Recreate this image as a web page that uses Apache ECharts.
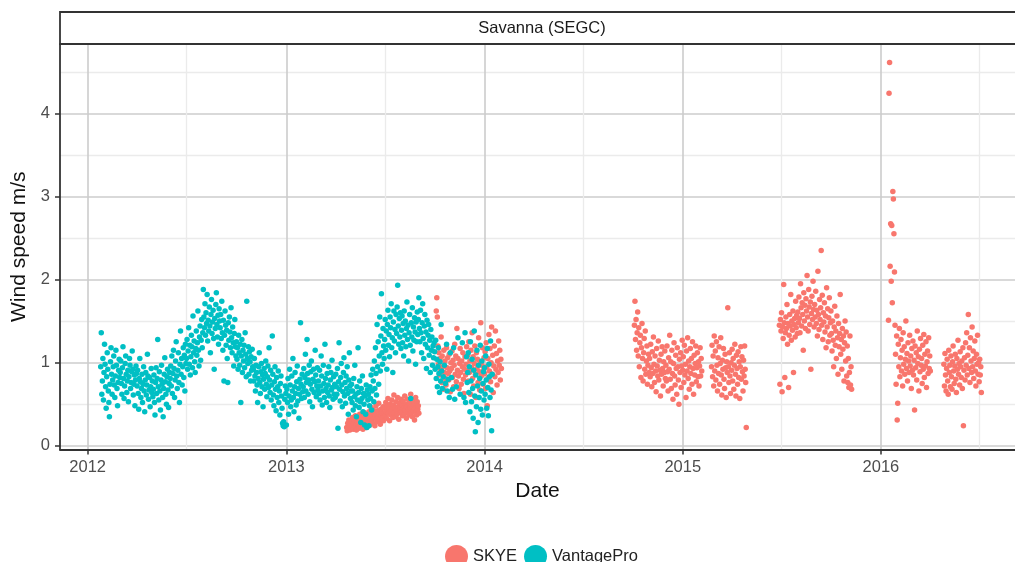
<!DOCTYPE html>
<html><head><meta charset="utf-8">
<script src="https://cdn.jsdelivr.net/npm/echarts@6/dist/echarts.min.js"></script>
<style>html,body{margin:0;padding:0;background:#fff}#c{width:1015px;height:562px}</style>
</head><body><div id="c"></div>
<script>
// ---------------- DATA ----------------
const panelTitle = 'Savanna (SEGC)';
const seriesNames = ['SKYE', 'VantagePro'];

// VantagePro daily wind speed (m/s); null = no reading that day
const vpStart2012 = '2012-01-25';
const vp2012 = [
0.95,1.36,0.62,0.78,1.05,0.55,0.88,
1.22,0.98,0.71,0.45,0.83,1.12,0.92,0.66,0.52,0.35,0.74,1.01,1.18,0.86,0.62,0.79,0.95,1.08,0.73,0.58,0.84,1.15,0.97,0.69,0.48,0.76,0.91,1.04,0.82,
0.88,1.02,0.75,0.62,0.94,1.19,0.81,0.57,0.72,0.99,1.08,0.86,0.64,0.78,0.91,0.53,0.83,1.05,0.97,0.69,0.76,0.89,1.14,0.92,0.61,0.74,0.85,0.48,0.79,0.96,0.87,
0.72,0.91,0.63,0.44,0.81,1.05,0.77,0.58,0.69,0.86,0.52,0.74,0.95,0.66,0.41,0.79,0.88,0.61,0.73,1.10,0.84,0.56,0.67,0.82,0.47,0.71,0.93,0.64,0.78,0.59,
0.68,0.85,0.52,0.37,0.76,0.94,0.63,0.81,1.28,0.71,0.55,0.89,0.66,0.43,0.79,0.97,0.74,0.58,0.35,0.69,0.86,1.06,0.77,0.62,0.50,0.83,0.92,0.67,0.46,0.75,0.88,
0.81,0.96,0.72,1.08,0.63,0.87,1.15,0.93,0.58,0.79,1.02,1.25,0.84,0.69,0.91,1.12,0.76,0.52,0.98,1.38,0.86,1.05,0.73,0.95,1.18,0.82,1.09,0.66,1.22,0.99,
1.05,1.28,0.92,1.14,1.42,0.98,1.21,0.85,1.07,1.33,1.19,0.94,1.56,1.12,1.26,1.01,0.88,1.17,1.38,1.09,1.24,1.62,1.15,0.96,1.31,1.44,1.03,1.27,1.52,1.18,1.36,
1.88,1.55,1.42,1.71,1.33,1.60,1.47,1.82,1.26,1.51,1.38,1.67,1.44,1.12,1.58,1.76,1.35,1.49,1.63,1.29,0.92,1.53,1.41,1.70,1.84,1.46,1.31,1.57,1.22,1.65,1.50,
1.42,1.58,1.29,1.74,1.36,1.15,1.51,0.78,1.33,1.62,1.45,1.21,1.39,1.05,0.76,1.48,1.27,1.55,1.37,1.18,1.66,1.30,1.12,1.43,1.24,0.96,1.35,1.52,1.19,1.08,
1.25,1.04,1.18,0.92,1.33,1.12,0.97,1.22,0.52,1.08,1.28,0.88,1.15,1.02,1.21,0.94,1.36,1.10,0.83,1.74,1.05,0.99,1.19,0.86,1.13,1.01,0.78,1.07,0.91,1.16,0.95,
0.92,0.78,1.05,0.84,0.66,0.97,0.88,0.73,0.52,0.81,0.95,1.12,0.76,0.63,0.89,0.99,0.71,0.85,0.47,0.80,0.93,0.68,0.87,1.02,0.74,0.59,0.83,0.96,0.70,1.18,
0.79,0.64,0.91,0.55,0.73,1.32,0.86,0.61,0.48,0.77,0.95,0.68,0.42,0.82,0.58,0.71,0.90,0.52,0.66,0.37,0.75,0.84,0.60,0.45,0.27,0.24,0.29,0.23,0.56,0.72,0.63
];
const vpStart2013 = '2013-01-01';
const vp2013 = [
0.25,0.68,0.52,0.81,0.38,0.60,0.92,0.73,0.47,0.55,0.84,0.66,1.05,0.58,0.41,0.71,0.88,0.63,0.49,0.77,0.96,0.54,0.69,0.33,0.62,0.80,1.48,0.74,0.57,0.86,0.65,
0.71,0.93,0.58,0.82,1.10,0.66,0.76,1.28,0.87,0.62,0.79,0.97,0.53,0.74,0.89,1.02,0.68,0.47,0.80,0.92,0.64,0.77,1.15,0.85,0.59,0.72,0.94,0.67,
0.78,0.63,0.91,0.55,0.72,1.08,0.84,0.49,0.66,0.97,0.75,0.58,1.22,0.81,0.69,0.52,0.87,0.64,0.73,0.95,0.60,0.46,0.79,0.88,0.67,1.03,0.70,0.56,0.83,0.62,0.74,
0.58,0.86,0.71,0.62,0.93,0.21,0.77,1.24,0.68,0.54,0.82,0.99,0.73,0.47,0.65,0.88,1.06,0.60,0.76,0.51,0.84,0.69,0.95,0.63,0.38,0.79,1.12,0.72,0.57,0.66,
0.74,0.52,0.66,0.43,0.81,0.59,0.97,0.48,0.62,0.35,0.71,0.55,1.18,0.64,0.46,0.78,0.53,0.28,0.69,0.57,0.84,0.41,0.63,0.50,0.25,0.60,0.38,0.73,0.22,0.67,0.55,
0.62,0.24,0.48,0.71,0.57,0.85,0.43,0.66,0.92,0.78,0.53,1.02,0.69,1.18,0.87,0.61,1.46,0.95,1.25,0.74,1.08,1.55,0.90,1.32,1.83,1.12,0.98,1.41,1.20,1.05,
1.28,1.52,1.15,1.38,0.92,1.46,1.63,1.21,1.34,1.07,1.55,1.42,1.71,1.18,1.30,0.88,1.49,1.62,1.26,1.40,1.12,1.58,1.35,1.67,1.93,1.44,1.22,1.53,1.31,1.60,1.17,
1.39,1.56,1.24,1.47,1.08,1.62,1.33,1.50,1.19,1.41,1.73,1.28,1.45,1.02,1.36,1.58,1.21,0.57,1.48,1.31,1.66,1.14,1.43,1.27,1.54,1.37,0.98,1.49,1.25,1.61,1.34,
1.52,1.78,1.41,1.25,1.63,1.36,1.12,1.48,1.71,1.29,1.05,1.44,1.58,1.22,1.37,0.93,1.51,1.18,1.33,1.46,1.09,1.27,0.88,1.40,1.15,1.31,0.97,1.20,1.06,1.24,
1.13,0.92,1.27,0.81,1.04,0.71,0.95,1.18,0.87,0.64,1.01,0.78,1.46,0.90,0.69,null,0.83,null,0.97,null,0.75,null,1.22,0.66,null,0.80,null,0.58,null,1.12,null,
0.82,null,0.68,null,1.18,null,0.56,null,null,0.71,null,null,1.30,null,null,null,0.62,null,null,null,1.24,null,null,0.58,null,1.36,0.52,null,1.07,0.76,
0.88,1.12,0.64,0.95,0.41,1.25,0.78,0.53,1.04,0.69,0.33,0.91,1.38,0.60,0.17,0.85,0.47,1.15,0.72,0.28,0.97,0.58,0.81,1.21,0.44,0.66,1.02,0.37,0.75,0.89,0.55
];
const vpStart2014 = '2014-01-01';
const vp2014 = [0.94,0.62,1.08,0.79,0.45,1.17,0.70,0.36,0.98,0.83,0.58,1.26,0.67,0.18,0.86];

// SKYE daily wind speed (m/s), one array per logging period
const skyeStarts = ['2013-04-22','2013-10-04','2014-10-04','2015-02-23','2015-06-28','2016-01-15','2016-04-26'];
const skye1 = [
0.22,0.18,0.27,0.20,0.31,0.24,0.19,0.26,0.21,
0.29,0.23,0.34,0.20,0.27,0.31,0.22,0.36,0.25,0.19,0.30,0.28,0.24,0.33,0.21,0.38,0.26,0.29,0.23,0.35,0.31,0.20,0.27,0.40,0.24,0.32,0.28,0.37,0.22,0.30,0.34,
0.28,0.41,0.33,0.25,0.38,0.46,0.30,0.36,0.27,0.43,0.34,0.39,0.24,0.37,0.48,0.32,0.29,0.42,0.35,0.51,0.31,0.38,0.26,0.44,0.36,0.40,0.33,0.47,0.30,0.39,
0.45,0.36,0.52,0.41,0.33,0.48,0.57,0.39,0.44,0.30,0.50,0.42,0.37,0.55,0.46,0.34,0.49,0.61,0.40,0.45,0.35,0.53,0.43,0.38,0.58,0.47,0.32,0.51,0.44,0.40,0.56,
0.41,0.49,0.36,0.54,0.45,0.38,0.60,0.43,0.50,0.33,0.47,0.56,0.40,0.44,0.37,0.52,0.46,0.62,0.39,0.48,0.35,0.55,0.42,0.50,0.31,0.45,0.58,0.41,0.37,0.53,0.44,
0.48,0.39
];
const skye2 = [
1.62,1.78,1.55,1.20,0.98,1.12,0.85,1.05,0.92,1.31,0.76,1.08,0.95,0.68,1.15,0.88,1.02,0.81,0.73,1.18,0.94,1.06,0.87,0.79,1.10,0.90,0.65,1.00,
0.93,1.14,0.82,1.03,0.71,0.97,1.22,0.86,1.08,0.77,1.41,0.91,1.05,0.84,0.69,0.99,1.17,0.88,0.74,1.02,0.95,1.12,0.80,0.63,0.92,1.07,0.85,0.98,1.19,0.90,
1.09,0.78,1.25,0.88,1.02,0.62,1.15,0.94,1.36,0.81,1.07,0.72,0.99,1.20,0.86,0.58,1.12,0.93,1.04,0.76,1.30,0.89,0.67,1.01,1.48,0.84,0.97,1.18,0.74,0.91,1.06,
0.87,1.13,0.69,1.24,0.95,0.48,1.05,0.82,1.34,0.90,1.17,0.77,1.00,1.43,0.86,1.09,0.64,0.96,1.20,0.83,1.38,0.92,1.11,0.73,1.02,0.88,1.26,0.97,1.15,0.79,1.04,
0.93
];
const skye3 = [
1.45,1.74,1.28,1.52,1.15,1.36,1.61,1.08,1.42,0.95,1.24,1.33,0.82,1.18,1.47,1.05,0.78,1.12,1.29,0.92,1.38,0.86,1.02,1.20,0.74,0.97,1.10,0.88,
1.05,0.83,1.22,0.94,0.71,1.13,0.87,1.31,0.98,0.76,1.08,0.90,0.65,1.17,0.96,0.84,1.26,0.79,1.03,0.91,0.60,1.10,0.86,1.19,0.93,0.72,1.01,0.88,1.14,0.81,
0.97,0.78,1.20,0.89,0.66,1.06,0.92,1.33,0.80,1.01,0.69,1.15,0.87,0.56,0.99,1.24,0.84,0.73,1.09,0.93,0.62,1.18,0.95,0.79,0.50,1.04,0.88,1.12,0.70,0.96,1.27,
0.91,1.07,0.76,1.21,0.85,0.98,0.58,1.14,0.90,1.30,0.81,1.02,0.68,0.95,1.17,0.87,1.05,0.74,1.25,0.93,0.62,1.09,0.85,0.99,1.20,0.77,0.94,1.12,0.83,1.01,0.72,
0.96,1.18,0.84,1.05,0.90
];
const skye4 = [
0.95,1.21,0.83,1.08,0.72,1.32,
0.90,1.14,0.79,1.25,0.97,0.66,1.06,0.87,1.19,0.74,0.99,1.30,0.85,0.61,1.03,0.92,1.17,0.80,0.69,1.10,0.94,0.58,1.01,0.88,1.66,0.95,0.76,1.12,0.84,0.63,1.00,
0.91,1.16,0.78,1.05,0.68,0.97,1.22,0.86,0.60,1.09,0.93,0.74,1.13,0.82,1.01,0.57,0.95,1.19,0.80,1.07,0.89,0.66,1.03,0.84,1.20,0.92,0.76,0.22
];
const skye5 = [
1.45,0.74,1.52,
1.38,1.60,0.65,1.43,1.29,1.94,1.48,0.82,1.36,1.55,1.41,1.70,1.22,1.47,0.70,1.33,1.58,1.44,1.82,1.27,1.50,1.39,1.62,0.88,1.46,1.53,1.31,1.74,1.42,1.57,1.35,
1.61,1.48,1.79,1.53,1.36,1.95,1.66,1.44,1.72,1.58,1.15,1.84,1.50,1.69,1.41,1.77,1.62,2.05,1.55,1.38,1.88,1.67,1.46,1.73,0.92,1.59,1.80,1.52,1.98,1.64,1.43,
1.70,1.55,1.86,1.47,1.63,1.32,2.10,1.58,1.40,1.76,1.52,1.66,2.35,1.45,1.81,1.28,1.60,1.49,1.72,1.37,1.56,1.18,1.90,1.43,1.65,1.25,1.54,1.78,1.33,1.48,
1.62,1.35,1.14,1.50,1.27,0.95,1.43,1.68,1.21,1.38,1.05,1.56,1.30,0.86,1.47,1.19,1.35,1.82,1.10,1.28,0.92,1.41,1.16,1.32,0.78,1.24,1.50,1.02,1.37,0.84,1.20,
0.76,1.05,0.70,0.88,1.32,0.73,0.95,0.68
];
const skye6 = [
1.51,4.24,4.61,2.16,2.67,1.98,2.65,1.72,3.06,2.97,2.55,2.09,
1.45,1.10,0.74,1.32,0.31,
0.51,1.22,0.95,1.41,0.83,1.06,1.28,0.90,1.15,0.72,1.36,0.98,1.19,0.86,1.04,1.50,0.93,1.11,0.78,1.24,1.02,0.88,1.33,0.96,1.08,0.69,1.17,0.91,1.26,
0.85,1.03,0.43,1.20,0.94,1.12,0.79,1.38,0.99,1.07,0.66,1.16,0.89,1.29,0.97,1.05,0.75,1.21,0.92,1.34,0.82,1.10,0.96,1.25,0.70,1.01,1.14,0.87,1.30,0.93,1.08,
0.90
];
const skye7 = [
0.98,0.72,1.11,0.85,0.66,
0.93,1.04,0.78,0.62,1.15,0.88,0.97,0.71,1.08,0.83,0.68,1.01,1.20,0.90,0.75,0.96,1.10,0.80,0.64,1.05,0.92,1.27,0.86,0.99,0.73,1.13,0.95,0.82,1.02,0.69,1.18,
0.24,0.91,1.06,0.79,1.24,0.97,1.36,0.85,1.09,1.58,0.93,1.18,0.76,1.30,1.02,0.88,1.43,0.95,1.14,0.81,1.05,1.26,0.90,0.72,1.10,0.98,1.33,0.86,1.00,0.77,
1.04,0.85,0.95,0.64
];

// Axis ticks
const yearTicks = ['2012-01-01','2013-01-01','2014-01-01','2015-01-01','2016-01-01'];
const halfYearTicks = ['2012-07-01','2013-07-02','2014-07-02','2015-07-02','2016-07-01'];
const yTicks = [0, 1, 2, 3, 4];
const yMinorTicks = [0.5, 1.5, 2.5, 3.5, 4.5];
const xRange = ['2011-11-11', '2016-09-04'];   // visible part of the panel
const yRange = [-0.045, 4.834];

// ---------------- BUILD ----------------
const DAY = 86400000;
function daily(start, values) {
  const t0 = Date.parse(start);
  const out = [];
  values.forEach((v, i) => { if (v != null) out.push([t0 + i * DAY, v]); });
  return out;
}
const vpData = [].concat(daily(vpStart2012, vp2012), daily(vpStart2013, vp2013), daily(vpStart2014, vp2014));
const skyeArrays = [skye1, skye2, skye3, skye4, skye5, skye6, skye7];
let skyeData = [];
skyeArrays.forEach((arr, k) => { skyeData = skyeData.concat(daily(skyeStarts[k], arr)); });

const FONT = '"Liberation Sans", Arial, Helvetica, sans-serif';
const GRID = { left: 60, top: 44, right: 0, bottom: 112.5 };
const xMin = Date.parse(xRange[0]), xMax = Date.parse(xRange[1]);
const yearTs = yearTicks.map(Date.parse);
const halfTs = halfYearTicks.map(Date.parse);

const chart = echarts.init(document.getElementById('c'), null, { renderer: 'canvas' });
chart.setOption({
  animation: false,
  backgroundColor: '#fff',
  textStyle: { fontFamily: FONT },
  grid: { left: GRID.left, top: GRID.top, right: GRID.right, bottom: GRID.bottom, containLabel: false },
  legend: {
    data: seriesNames,
    icon: 'circle',
    itemWidth: 23, itemHeight: 23, itemGap: 7,
    left: 440, top: 540,
    textStyle: { fontSize: 16.5, color: '#222', fontFamily: FONT }
  },
  xAxis: [
    { // minor grid
      type: 'value', min: xMin, max: xMax, position: 'top', gridIndex: 0,
      axisLine: { show: false }, axisLabel: { show: false },
      axisTick: { show: false, customValues: halfTs },
      splitLine: { show: true, lineStyle: { color: '#ebebeb', width: 1.3 } }
    },
    {
      type: 'value', min: xMin, max: xMax, position: 'bottom', gridIndex: 0,
      name: 'Date', nameLocation: 'middle', nameGap: 30,
      nameTextStyle: { fontSize: 21, color: '#111', fontFamily: FONT },
      axisLine: { show: true, onZero: false, lineStyle: { color: '#333', width: 1.8 } },
      axisTick: { show: true, length: 5, customValues: yearTs, lineStyle: { color: '#333', width: 1.5 } },
      axisLabel: { customValues: yearTs, formatter: v => String(new Date(v).getUTCFullYear()),
                   fontSize: 16.5, color: '#4d4d4d', margin: 9, fontFamily: FONT },
      splitLine: { show: true, lineStyle: { color: '#cccccc', width: 1.6 } }
    }
  ],
  yAxis: [
    { // minor grid
      type: 'value', min: yRange[0], max: yRange[1], position: 'right', gridIndex: 0,
      axisLine: { show: false }, axisLabel: { show: false },
      axisTick: { show: false, customValues: yMinorTicks },
      splitLine: { show: true, lineStyle: { color: '#ebebeb', width: 1.3 } }
    },
    {
      type: 'value', min: yRange[0], max: yRange[1], position: 'left', gridIndex: 0,
      name: 'Wind speed m/s', nameLocation: 'middle', nameGap: 27, nameRotate: 90,
      nameTextStyle: { fontSize: 21, color: '#111', fontFamily: FONT },
      axisLine: { show: true, onZero: false, lineStyle: { color: '#333', width: 1.8 } },
      axisTick: { show: true, length: 5, customValues: yTicks, lineStyle: { color: '#333', width: 1.5 } },
      axisLabel: { customValues: yTicks, fontSize: 16.5, color: '#4d4d4d', margin: 10, fontFamily: FONT },
      splitLine: { show: true, lineStyle: { color: '#cccccc', width: 1.6 } }
    }
  ],
  series: [
    { name: 'SKYE', type: 'scatter', xAxisIndex: 1, yAxisIndex: 1, data: skyeData,
      symbolSize: 5.5, itemStyle: { color: '#F8766D', opacity: 1 } },
    { name: 'VantagePro', type: 'scatter', xAxisIndex: 1, yAxisIndex: 1, data: vpData,
      symbolSize: 5.5, itemStyle: { color: '#00BFC4', opacity: 1 } }
  ],
  graphic: [
    { type: 'rect', z: 100, shape: { x: GRID.left, y: 12, width: 1000, height: GRID.top - 12 },
      style: { fill: '#fff', stroke: '#333', lineWidth: 1.8 } },
    { type: 'text', z: 101, style: { text: panelTitle, x: 542, y: 28,
      align: 'center', verticalAlign: 'middle', fontSize: 16.5, fontFamily: FONT, fill: '#1a1a1a' } }
  ]
});
</script></body></html>
